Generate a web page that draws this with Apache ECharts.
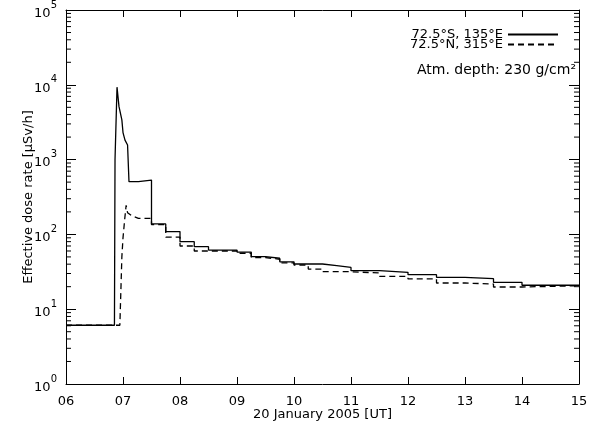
<!DOCTYPE html>
<html><head><meta charset="utf-8">
<script src="https://cdn.jsdelivr.net/npm/echarts@6/dist/echarts.min.js"></script>
<style>html,body{margin:0;padding:0;background:#fff}#c{width:597px;height:428px}</style>
</head><body><div id="c"></div>
<script>
const xTickLabels = ['06','07','08','09','10','11','12','13','14','15'];
const yTickExponents = ['0','1','2','3','4','5'];
const seriesNames = ['72.5\u00B0S, 135\u00B0E', '72.5\u00B0N, 315\u00B0E'];
const xTitle = '20 January 2005 [UT]';
const yTitle = 'Effective dose rate [\u03BCSv/h]';
const noteText = 'Atm. depth: 230 g/cm\u00B2';

// 72.5°S, 135°E (solid) - vertices (hour, dose rate)
const southTimes = [6.0, 6.85, 6.86, 6.885, 6.895, 6.93, 6.98, 7.0, 7.035, 7.08, 7.10, 7.105, 7.27, 7.27, 7.50, 7.50, 7.75, 7.75, 8.0, 8.0, 8.25, 8.25, 8.5, 8.5, 9.0, 9.0, 9.25, 9.25, 9.5, 9.5, 9.75, 9.75, 10.0, 10.0, 10.5, 10.5, 10.75, 10.75, 11.0, 11.0, 11.5, 11.5, 12.0, 12.0, 12.5, 12.5, 13.0, 13.0, 13.5, 13.5, 14.0, 14.0, 15.0];
const southValues = [6.1, 6.1, 1000, 1050, 9300, 5100, 3400, 2300, 1820, 1570, 1560, 507, 507, 533, 533, 138, 138, 109, 109, 80, 80, 68.5, 68.5, 61.8, 61.8, 58, 58, 50.4, 50.4, 48, 48, 43, 43, 40.2, 40.2, 38.2, 38.2, 36.2, 36.2, 32.7, 32.7, 31.1, 31.1, 28.9, 28.9, 26.7, 26.7, 25.6, 25.6, 22.9, 22.9, 20.9, 20.9];

// 72.5°N, 315°E (dashed)
const northTimes = [6.0, 6.945, 6.96, 6.98, 7.0, 7.03, 7.055, 7.08, 7.15, 7.27, 7.50, 7.50, 7.75, 7.75, 8.0, 8.0, 8.25, 8.25, 9.0, 9.0, 9.25, 9.25, 9.5, 9.5, 9.75, 9.75, 10.0, 10.0, 10.25, 10.25, 10.5, 10.5, 11.0, 11.0, 11.5, 11.5, 12.0, 12.0, 12.5, 12.5, 13.0, 13.0, 13.5, 13.5, 14.0, 14.0, 15.0];
const northValues = [6.1, 6.1, 15, 50, 90, 160, 245, 195, 178, 164, 164, 135, 135, 92, 92, 70, 70, 60, 60, 56, 56, 49, 49, 46.5, 46.5, 41.5, 41.5, 39, 39, 34.4, 34.4, 31.7, 31.7, 30.5, 30.5, 27.5, 27.5, 25.4, 25.4, 22.4, 22.4, 21.7, 21.7, 19.8, 19.8, 20.6, 20.6];

const minorTickValues = [2,3,4,5,6,7,8,9, 20,30,40,50,60,70,80,90, 200,300,400,500,600,700,800,900, 2000,3000,4000,5000,6000,7000,8000,9000, 20000,30000,40000,50000,60000,70000,80000,90000];

const FONT = 'DejaVu Sans';
const pairs = (t, v) => t.map((x, i) => [x, v[i]]);

const chart = echarts.init(document.getElementById('c'), null, {renderer: 'canvas'});
const black = '#000';
chart.setOption({
  animation: false,
  backgroundColor: '#fff',
  textStyle: {fontFamily: FONT, color: black},
  grid: {left: 66, right: 18, top: 10, bottom: 44},
  legend: {
    orient: 'vertical', align: 'right', right: 33, top: 23,
    itemWidth: 50, itemHeight: 9, itemGap: -3,
    data: seriesNames,
    itemStyle: {color: 'transparent', borderColor: 'transparent', borderWidth: 0, opacity: 0},
    textStyle: {fontSize: 13, fontFamily: FONT, color: black}
  },
  graphic: [{
    type: 'text', right: 21, top: 63,
    style: {text: noteText, fontSize: 14, fontFamily: FONT, fill: black}
  }],
  xAxis: [{
    type: 'value', min: 6, max: 15, interval: 1, position: 'bottom',
    name: xTitle, nameLocation: 'middle', nameGap: 24, nameMoveOverlap: false,
    nameTextStyle: {fontSize: 13, fontFamily: FONT, color: black},
    axisLine: {show: true, lineStyle: {color: black, width: 1}},
    axisTick: {show: true, inside: true, length: 7, lineStyle: {color: black}},
    axisLabel: {margin: 11, fontSize: 13, fontFamily: FONT, color: black,
      formatter: v => xTickLabels[Math.round(v - 6)]},
    splitLine: {show: false}
  }, {
    type: 'value', min: 6, max: 15, interval: 1, position: 'top',
    axisLine: {show: true, lineStyle: {color: black, width: 1}},
    axisTick: {show: true, inside: true, length: 7, lineStyle: {color: black}},
    axisLabel: {show: false}, splitLine: {show: false}
  }],
  yAxis: [{
    type: 'log', logBase: 10, min: 1, max: 100000, interval: 1, position: 'left',
    name: yTitle, nameLocation: 'middle', nameGap: 31, nameMoveOverlap: false,
    nameTextStyle: {fontSize: 13, fontFamily: FONT, color: black},
    axisLine: {show: true, lineStyle: {color: black, width: 1}},
    axisTick: {show: true, inside: true, length: 10, lineStyle: {color: black}},
    axisLabel: {margin: 9, fontFamily: FONT, color: black,
      formatter: v => '{b|10}{s|' + yTickExponents[Math.round(Math.log10(v))] + '}',
      rich: {
        b: {fontSize: 13, fontFamily: FONT, color: black, lineHeight: 20, verticalAlign: 'bottom'},
        s: {fontSize: 10, fontFamily: FONT, color: black, lineHeight: 20, verticalAlign: 'top'}
      }},
    splitLine: {show: false}
  }, {
    type: 'log', logBase: 10, min: 1, max: 100000, interval: 1, position: 'right',
    axisLine: {show: true, lineStyle: {color: black, width: 1}},
    axisTick: {show: true, inside: true, length: 10, lineStyle: {color: black}},
    axisLabel: {show: false}, splitLine: {show: false}
  }],
  series: [{
    name: seriesNames[1], type: 'line', xAxisIndex: 0, yAxisIndex: 0,
    data: pairs(northTimes, northValues), symbol: 'none', showSymbol: false,
    lineStyle: {color: black, width: 1.3, type: [6, 4]}, itemStyle: {color: black}
  }, {
    name: seriesNames[0], type: 'line', xAxisIndex: 0, yAxisIndex: 0,
    data: pairs(southTimes, southValues), symbol: 'none', showSymbol: false,
    lineStyle: {color: black, width: 1.3, type: 'solid'}, itemStyle: {color: black}
  }, {
    name: 'minor ticks', type: 'custom', xAxisIndex: 0, yAxisIndex: 0, silent: true, clip: false,
    data: minorTickValues.map(v => [6, v]),
    encode: {x: 0, y: 1},
    renderItem: (params, api) => {
      const cs = params.coordSys;
      const y = api.coord([6, api.value(1)])[1];
      return {type: 'group', children: [
        {type: 'line', shape: {x1: cs.x, y1: y, x2: cs.x + 5, y2: y}, style: {stroke: black, lineWidth: 1}},
        {type: 'line', shape: {x1: cs.x + cs.width - 5, y1: y, x2: cs.x + cs.width, y2: y}, style: {stroke: black, lineWidth: 1}}
      ]};
    }
  }]
});
</script></body></html>
